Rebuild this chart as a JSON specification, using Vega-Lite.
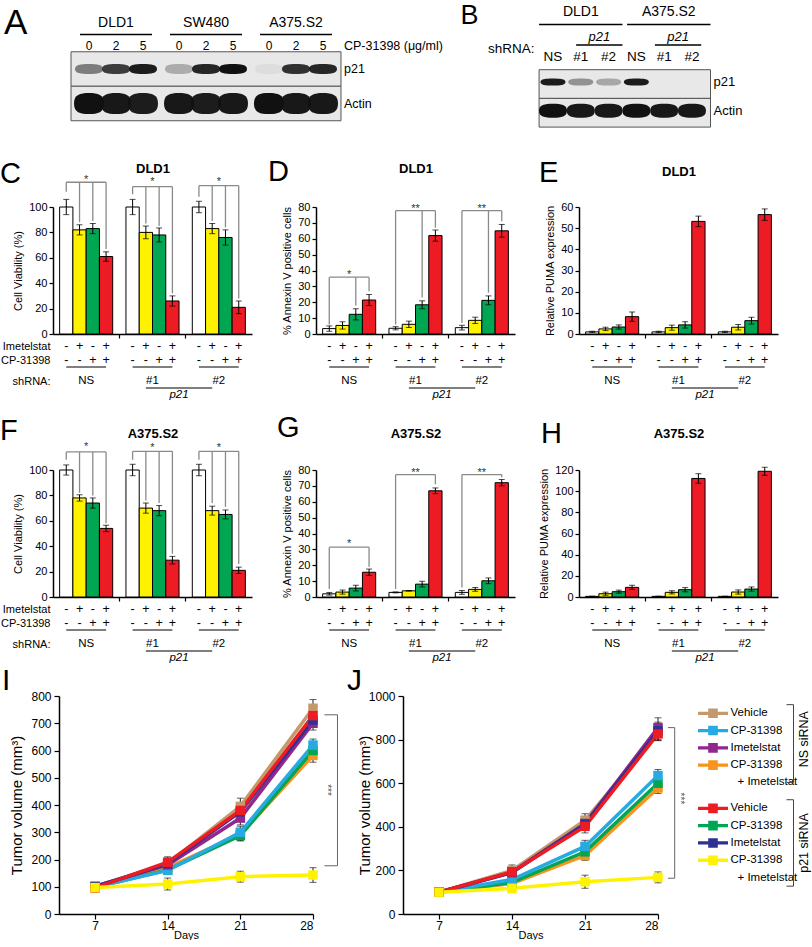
{
"$schema":"https://vega.github.io/schema/vega-lite/v6.json",
"padding":0,
"config":{"font":"Liberation Sans","view":{"stroke":null},
"axis":{"grid":false,"domainColor":"#000","tickColor":"#000","labelColor":"#000","titleColor":"#000","titleFontWeight":"normal","labelFont":"Liberation Sans","titleFont":"Liberation Sans"},
"title":{"color":"#000","font":"Liberation Sans"},"text":{"color":"#000"}},
"datasets":{
"bars":[
{"p":"C","s":"n1","t":"V","m":100,"e":6},{"p":"C","s":"n2","t":"I","m":82,"e":4},{"p":"C","s":"n3","t":"C","m":83,"e":4},{"p":"C","s":"n4","t":"IC","m":61,"e":3.7},
{"p":"C","s":"s1","t":"V","m":100,"e":6},{"p":"C","s":"s2","t":"I","m":80,"e":5},{"p":"C","s":"s3","t":"C","m":78,"e":5.5},{"p":"C","s":"s4","t":"IC","m":26,"e":4},
{"p":"C","s":"t1","t":"V","m":100,"e":4.5},{"p":"C","s":"t2","t":"I","m":83,"e":4},{"p":"C","s":"t3","t":"C","m":76,"e":6},{"p":"C","s":"t4","t":"IC","m":21,"e":5},
{"p":"D","s":"n1","t":"V","m":3.4,"e":1.7},{"p":"D","s":"n2","t":"I","m":5.4,"e":2.3},{"p":"D","s":"n3","t":"C","m":12.4,"e":3.5},{"p":"D","s":"n4","t":"IC","m":21.4,"e":3.5},
{"p":"D","s":"s1","t":"V","m":3.6,"e":1},{"p":"D","s":"s2","t":"I","m":6.1,"e":2},{"p":"D","s":"s3","t":"C","m":18.4,"e":2.5},{"p":"D","s":"s4","t":"IC","m":62,"e":3.5},
{"p":"D","s":"t1","t":"V","m":4,"e":1.5},{"p":"D","s":"t2","t":"I","m":8.6,"e":2},{"p":"D","s":"t3","t":"C","m":21.2,"e":2.8},{"p":"D","s":"t4","t":"IC","m":65,"e":4},
{"p":"E","s":"n1","t":"V","m":1,"e":0.3},{"p":"E","s":"n2","t":"I","m":2.4,"e":0.8},{"p":"E","s":"n3","t":"C","m":3.3,"e":1},{"p":"E","s":"n4","t":"IC","m":8.2,"e":2.2},
{"p":"E","s":"s1","t":"V","m":1,"e":0.3},{"p":"E","s":"s2","t":"I","m":3,"e":1.2},{"p":"E","s":"s3","t":"C","m":4.3,"e":1.5},{"p":"E","s":"s4","t":"IC","m":53.2,"e":2.5},
{"p":"E","s":"t1","t":"V","m":1,"e":0.3},{"p":"E","s":"t2","t":"I","m":3.2,"e":1.3},{"p":"E","s":"t3","t":"C","m":6.3,"e":1.6},{"p":"E","s":"t4","t":"IC","m":56.4,"e":2.7},
{"p":"F","s":"n1","t":"V","m":100,"e":4},{"p":"F","s":"n2","t":"I","m":78,"e":2.5},{"p":"F","s":"n3","t":"C","m":74,"e":4},{"p":"F","s":"n4","t":"IC","m":54,"e":2.5},
{"p":"F","s":"s1","t":"V","m":100,"e":4.5},{"p":"F","s":"s2","t":"I","m":70,"e":4},{"p":"F","s":"s3","t":"C","m":68,"e":4},{"p":"F","s":"s4","t":"IC","m":29,"e":3},
{"p":"F","s":"t1","t":"V","m":100,"e":4.5},{"p":"F","s":"t2","t":"I","m":68,"e":3.5},{"p":"F","s":"t3","t":"C","m":65,"e":3.5},{"p":"F","s":"t4","t":"IC","m":21,"e":2.5},
{"p":"G","s":"n1","t":"V","m":2,"e":0.8},{"p":"G","s":"n2","t":"I","m":3.1,"e":1.3},{"p":"G","s":"n3","t":"C","m":5.6,"e":1.8},{"p":"G","s":"n4","t":"IC","m":15.6,"e":2},
{"p":"G","s":"s1","t":"V","m":2.9,"e":0.3},{"p":"G","s":"s2","t":"I","m":3.9,"e":0.2},{"p":"G","s":"s3","t":"C","m":8.1,"e":1.8},{"p":"G","s":"s4","t":"IC","m":66.9,"e":1.8},
{"p":"G","s":"t1","t":"V","m":2.9,"e":1.2},{"p":"G","s":"t2","t":"I","m":4.8,"e":1.2},{"p":"G","s":"t3","t":"C","m":10.2,"e":1.8},{"p":"G","s":"t4","t":"IC","m":72,"e":2},
{"p":"H","s":"n1","t":"V","m":0.6,"e":0.2},{"p":"H","s":"n2","t":"I","m":3.1,"e":1.5},{"p":"H","s":"n3","t":"C","m":5,"e":1.5},{"p":"H","s":"n4","t":"IC","m":9.1,"e":2},
{"p":"H","s":"s1","t":"V","m":0.6,"e":0.2},{"p":"H","s":"s2","t":"I","m":4.4,"e":1.5},{"p":"H","s":"s3","t":"C","m":6.9,"e":2},{"p":"H","s":"s4","t":"IC","m":112,"e":4.5},
{"p":"H","s":"t1","t":"V","m":0.6,"e":0.2},{"p":"H","s":"t2","t":"I","m":4.7,"e":2},{"p":"H","s":"t3","t":"C","m":7.5,"e":2},{"p":"H","s":"t4","t":"IC","m":118.8,"e":3.8}
],
"legs":[
{"p":"C","s":"n1","top":119.5,"bot":112},{"p":"C","s":"n2","top":119.5,"bot":88},{"p":"C","s":"n3","top":119.5,"bot":89},{"p":"C","s":"n4","top":119.5,"bot":67},
{"p":"C","s":"s1","top":116,"bot":110},{"p":"C","s":"s2","top":116,"bot":87},{"p":"C","s":"s3","top":116,"bot":85},{"p":"C","s":"s4","top":116,"bot":32},
{"p":"C","s":"t1","top":116.8,"bot":108},{"p":"C","s":"t2","top":116.8,"bot":89},{"p":"C","s":"t3","top":116.8,"bot":84},{"p":"C","s":"t4","top":116.8,"bot":28},
{"p":"D","s":"n1","top":35.8,"bot":6},{"p":"D","s":"n3","top":35.8,"bot":18},{"p":"D","s":"n4","top":35.8,"bot":27},
{"p":"D","s":"s1","top":77.7,"bot":6},{"p":"D","s":"s3","top":77.7,"bot":23},{"p":"D","s":"s4","top":77.7,"bot":67},
{"p":"D","s":"t1","top":77.7,"bot":7},{"p":"D","s":"t3","top":77.7,"bot":26},{"p":"D","s":"t4","top":77.7,"bot":71},
{"p":"F","s":"n1","top":114.2,"bot":108},{"p":"F","s":"n2","top":114.2,"bot":82},{"p":"F","s":"n3","top":114.2,"bot":80},{"p":"F","s":"n4","top":114.2,"bot":58},
{"p":"F","s":"s1","top":114.7,"bot":108},{"p":"F","s":"s2","top":114.7,"bot":76},{"p":"F","s":"s3","top":114.7,"bot":74},{"p":"F","s":"s4","top":114.7,"bot":34},
{"p":"F","s":"t1","top":114.7,"bot":108},{"p":"F","s":"t2","top":114.7,"bot":74},{"p":"F","s":"t3","top":114.7,"bot":71},{"p":"F","s":"t4","top":114.7,"bot":26},
{"p":"G","s":"n1","top":31.4,"bot":5},{"p":"G","s":"n4","top":31.4,"bot":19},
{"p":"G","s":"s1","top":77.1,"bot":5},{"p":"G","s":"s4","top":77.1,"bot":71},
{"p":"G","s":"t1","top":77.1,"bot":6},{"p":"G","s":"t4","top":77.1,"bot":75.5}
],
"hbr":[
{"p":"C","s":"n1","s2":"n4","y":119.5},{"p":"C","s":"s1","s2":"s4","y":116},{"p":"C","s":"t1","s2":"t4","y":116.8},
{"p":"D","s":"n1","s2":"n4","y":35.8},{"p":"D","s":"s1","s2":"s4","y":77.7},{"p":"D","s":"t1","s2":"t4","y":77.7},
{"p":"F","s":"n1","s2":"n4","y":114.2},{"p":"F","s":"s1","s2":"s4","y":114.7},{"p":"F","s":"t1","s2":"t4","y":114.7},
{"p":"G","s":"n1","s2":"n4","y":31.4},{"p":"G","s":"s1","s2":"s4","y":77.1},{"p":"G","s":"t1","s2":"t4","y":77.1}
],
"stars":[
{"p":"C","s":"n2","y":123,"l":"*"},{"p":"C","s":"s2","y":121.5,"l":"*"},{"p":"C","s":"t2","y":121.5,"l":"*"},
{"p":"D","s":"n2","y":38.5,"l":"*"},{"p":"D","s":"s2","y":80.4,"l":"**"},{"p":"D","s":"t2","y":80.4,"l":"**"},
{"p":"F","s":"n2","y":120,"l":"*"},{"p":"F","s":"s2","y":119.4,"l":"*"},{"p":"F","s":"t2","y":119.4,"l":"*"},
{"p":"G","s":"n2","y":35,"l":"*"},{"p":"G","s":"s2","y":80,"l":"**"},{"p":"G","s":"t2","y":80,"l":"**"}
],
"tbl":[
{"k":"pm","s":"n1","r":"Imetelstat","v":"-"},{"k":"pm","s":"n2","r":"Imetelstat","v":"+"},{"k":"pm","s":"n3","r":"Imetelstat","v":"-"},{"k":"pm","s":"n4","r":"Imetelstat","v":"+"},
{"k":"pm","s":"s1","r":"Imetelstat","v":"-"},{"k":"pm","s":"s2","r":"Imetelstat","v":"+"},{"k":"pm","s":"s3","r":"Imetelstat","v":"-"},{"k":"pm","s":"s4","r":"Imetelstat","v":"+"},
{"k":"pm","s":"t1","r":"Imetelstat","v":"-"},{"k":"pm","s":"t2","r":"Imetelstat","v":"+"},{"k":"pm","s":"t3","r":"Imetelstat","v":"-"},{"k":"pm","s":"t4","r":"Imetelstat","v":"+"},
{"k":"pm","s":"n1","r":"CP-31398","v":"-"},{"k":"pm","s":"n2","r":"CP-31398","v":"-"},{"k":"pm","s":"n3","r":"CP-31398","v":"+"},{"k":"pm","s":"n4","r":"CP-31398","v":"+"},
{"k":"pm","s":"s1","r":"CP-31398","v":"-"},{"k":"pm","s":"s2","r":"CP-31398","v":"-"},{"k":"pm","s":"s3","r":"CP-31398","v":"+"},{"k":"pm","s":"s4","r":"CP-31398","v":"+"},
{"k":"pm","s":"t1","r":"CP-31398","v":"-"},{"k":"pm","s":"t2","r":"CP-31398","v":"-"},{"k":"pm","s":"t3","r":"CP-31398","v":"+"},{"k":"pm","s":"t4","r":"CP-31398","v":"+"},
{"k":"u","s":"n1","s2":"n4","r":"u"},{"k":"u","s":"s1","s2":"s4","r":"u"},{"k":"u","s":"t1","s2":"t4","r":"u"},{"k":"u","s":"s2","s2":"t2","r":"pl"},
{"k":"grp","s":"n2","r":"shRNA:","v":"NS"},{"k":"grp","s":"s2","r":"shRNA:","v":"#1"},{"k":"grp","s":"t2","r":"shRNA:","v":"#2"},
{"k":"it","s":"s4","r":"p21","v":"p21"}
],
"blotA":[
{"k":"box","x":"boxL","x2":"boxR","y":"top","y2":"mid"},{"k":"box","x":"boxL","x2":"boxR","y":"mid","y2":"bot"},
{"k":"bp","x":"DLD1 0","y":"p21","v":0.5},{"k":"bp","x":"DLD1 2","y":"p21","v":0.8},{"k":"bp","x":"DLD1 5","y":"p21","v":0.95},
{"k":"bp","x":"SW480 0","y":"p21","v":0.28},{"k":"bp","x":"SW480 2","y":"p21","v":0.9},{"k":"bp","x":"SW480 5","y":"p21","v":1},
{"k":"bp","x":"A375.S2 0","y":"p21","v":0.05},{"k":"bp","x":"A375.S2 2","y":"p21","v":0.85},{"k":"bp","x":"A375.S2 5","y":"p21","v":0.9},
{"k":"ba","x":"DLD1 0","y":"Actin","v":1},{"k":"ba","x":"DLD1 2","y":"Actin","v":0.97},{"k":"ba","x":"DLD1 5","y":"Actin","v":0.95},
{"k":"ba","x":"SW480 0","y":"Actin","v":0.97},{"k":"ba","x":"SW480 2","y":"Actin","v":0.95},{"k":"ba","x":"SW480 5","y":"Actin","v":0.97},
{"k":"ba","x":"A375.S2 0","y":"Actin","v":1},{"k":"ba","x":"A375.S2 2","y":"Actin","v":0.97},{"k":"ba","x":"A375.S2 5","y":"Actin","v":0.97},
{"k":"dose","x":"DLD1 0","y":"dose","t":"0"},{"k":"dose","x":"DLD1 2","y":"dose","t":"2"},{"k":"dose","x":"DLD1 5","y":"dose","t":"5"},
{"k":"dose","x":"SW480 0","y":"dose","t":"0"},{"k":"dose","x":"SW480 2","y":"dose","t":"2"},{"k":"dose","x":"SW480 5","y":"dose","t":"5"},
{"k":"dose","x":"A375.S2 0","y":"dose","t":"0"},{"k":"dose","x":"A375.S2 2","y":"dose","t":"2"},{"k":"dose","x":"A375.S2 5","y":"dose","t":"5"},
{"k":"cell","x":"DLD1 2","y":"cell","t":"DLD1"},{"k":"cell","x":"SW480 2","y":"cell","t":"SW480"},{"k":"cell","x":"A375.S2 2","y":"cell","t":"A375.S2"},
{"k":"ul","x":"uL1","x2":"uR1","y":"line"},{"k":"ul","x":"uL2","x2":"uR2","y":"line"},{"k":"ul","x":"uL3","x2":"uR3","y":"line"},
{"k":"side","x":"boxR","y":"p21","t":"p21"},{"k":"side","x":"boxR","y":"Actin","t":"Actin"},{"k":"side","x":"boxR","y":"dose","t":"CP-31398 (μg/ml)"},
{"k":"let","x":"lblA","y":"cell","t":"A"}
],
"blotB":[
{"k":"box","x":"boxL","x2":"boxR","y":"top","y2":"mid"},{"k":"box","x":"boxL","x2":"boxR","y":"mid","y2":"bot"},
{"k":"bp","x":"DLD1 NS","y":"p21","v":0.95},{"k":"bp","x":"DLD1 #1","y":"p21","v":0.4},{"k":"bp","x":"DLD1 #2","y":"p21","v":0.3},
{"k":"bp","x":"A375.S2 NS","y":"p21","v":0.95},{"k":"bp","x":"A375.S2 #1","y":"p21","v":0},{"k":"bp","x":"A375.S2 #2","y":"p21","v":0},
{"k":"ba","x":"DLD1 NS","y":"Actin","v":1},{"k":"ba","x":"DLD1 #1","y":"Actin","v":0.97},{"k":"ba","x":"DLD1 #2","y":"Actin","v":0.97},
{"k":"ba","x":"A375.S2 NS","y":"Actin","v":1},{"k":"ba","x":"A375.S2 #1","y":"Actin","v":0.97},{"k":"ba","x":"A375.S2 #2","y":"Actin","v":0.97},
{"k":"lane","x":"DLD1 NS","y":"lane","t":"NS"},{"k":"lane","x":"DLD1 #1","y":"lane","t":"#1"},{"k":"lane","x":"DLD1 #2","y":"lane","t":"#2"},
{"k":"lane","x":"A375.S2 NS","y":"lane","t":"NS"},{"k":"lane","x":"A375.S2 #1","y":"lane","t":"#1"},{"k":"lane","x":"A375.S2 #2","y":"lane","t":"#2"},
{"k":"cell","x":"DLD1 #1","y":"cell","t":"DLD1"},{"k":"cell","x":"cB2","y":"cell","t":"A375.S2"},
{"k":"ul","x":"boxL","x2":"m1","y":"line"},{"k":"ul","x":"uL2","x2":"boxR","y":"line"},{"k":"ul","x":"pL1","x2":"m1","y":"pline"},{"k":"ul","x":"pL2","x2":"pR2","y":"pline"},
{"k":"it","x":"pC1","y":"p21t","t":"p21"},{"k":"it","x":"pC2","y":"p21t","t":"p21"},
{"k":"shr","x":"shR","y":"shRNA","t":"shRNA:"},
{"k":"side","x":"boxR","y":"p21","t":"p21"},{"k":"side","x":"boxR","y":"Actin","t":"Actin"},
{"k":"let","x":"lblB","y":"lbl","t":"B"}
],
"tum":[
{"pn":"I","g":"NS-CI","d":7,"v":97,"e":5},{"pn":"I","g":"NS-CI","d":14,"v":170,"e":15},{"pn":"I","g":"NS-CI","d":21,"v":292,"e":22},{"pn":"I","g":"NS-CI","d":28,"v":582,"e":25},
{"pn":"I","g":"p-C","d":7,"v":98,"e":5},{"pn":"I","g":"p-C","d":14,"v":162,"e":15},{"pn":"I","g":"p-C","d":21,"v":288,"e":20},{"pn":"I","g":"p-C","d":28,"v":600,"e":25},
{"pn":"I","g":"NS-C","d":7,"v":98,"e":5},{"pn":"I","g":"NS-C","d":14,"v":160,"e":15},{"pn":"I","g":"NS-C","d":21,"v":300,"e":22},{"pn":"I","g":"NS-C","d":28,"v":620,"e":22},
{"pn":"I","g":"NS-V","d":7,"v":100,"e":5},{"pn":"I","g":"NS-V","d":14,"v":185,"e":20},{"pn":"I","g":"NS-V","d":21,"v":395,"e":30},{"pn":"I","g":"NS-V","d":28,"v":755,"e":32},
{"pn":"I","g":"NS-I","d":7,"v":102,"e":6},{"pn":"I","g":"NS-I","d":14,"v":180,"e":18},{"pn":"I","g":"NS-I","d":21,"v":352,"e":25},{"pn":"I","g":"NS-I","d":28,"v":700,"e":25},
{"pn":"I","g":"p-I","d":7,"v":100,"e":5},{"pn":"I","g":"p-I","d":14,"v":185,"e":18},{"pn":"I","g":"p-I","d":21,"v":375,"e":25},{"pn":"I","g":"p-I","d":28,"v":712,"e":25},
{"pn":"I","g":"p-V","d":7,"v":96,"e":5},{"pn":"I","g":"p-V","d":14,"v":190,"e":20},{"pn":"I","g":"p-V","d":21,"v":380,"e":28},{"pn":"I","g":"p-V","d":28,"v":728,"e":30},
{"pn":"I","g":"p-CI","d":7,"v":97,"e":5},{"pn":"I","g":"p-CI","d":14,"v":110,"e":22},{"pn":"I","g":"p-CI","d":21,"v":137,"e":20},{"pn":"I","g":"p-CI","d":28,"v":143,"e":27},
{"pn":"J","g":"NS-CI","d":7,"v":100,"e":8},{"pn":"J","g":"NS-CI","d":14,"v":140,"e":18},{"pn":"J","g":"NS-CI","d":21,"v":268,"e":22},{"pn":"J","g":"NS-CI","d":28,"v":578,"e":25},
{"pn":"J","g":"p-C","d":7,"v":100,"e":8},{"pn":"J","g":"p-C","d":14,"v":145,"e":18},{"pn":"J","g":"p-C","d":21,"v":285,"e":25},{"pn":"J","g":"p-C","d":28,"v":600,"e":25},
{"pn":"J","g":"NS-C","d":7,"v":100,"e":8},{"pn":"J","g":"NS-C","d":14,"v":158,"e":20},{"pn":"J","g":"NS-C","d":21,"v":310,"e":28},{"pn":"J","g":"NS-C","d":28,"v":635,"e":28},
{"pn":"J","g":"NS-V","d":7,"v":100,"e":8},{"pn":"J","g":"NS-V","d":14,"v":200,"e":25},{"pn":"J","g":"NS-V","d":21,"v":430,"e":30},{"pn":"J","g":"NS-V","d":28,"v":830,"e":35},
{"pn":"J","g":"NS-I","d":7,"v":100,"e":8},{"pn":"J","g":"NS-I","d":14,"v":192,"e":22},{"pn":"J","g":"NS-I","d":21,"v":415,"e":28},{"pn":"J","g":"NS-I","d":28,"v":855,"e":45},
{"pn":"J","g":"p-I","d":7,"v":100,"e":8},{"pn":"J","g":"p-I","d":14,"v":190,"e":22},{"pn":"J","g":"p-I","d":21,"v":412,"e":28},{"pn":"J","g":"p-I","d":28,"v":840,"e":40},
{"pn":"J","g":"p-V","d":7,"v":100,"e":8},{"pn":"J","g":"p-V","d":14,"v":193,"e":25},{"pn":"J","g":"p-V","d":21,"v":402,"e":30},{"pn":"J","g":"p-V","d":28,"v":826,"e":30},
{"pn":"J","g":"p-CI","d":7,"v":100,"e":8},{"pn":"J","g":"p-CI","d":14,"v":118,"e":20},{"pn":"J","g":"p-CI","d":21,"v":148,"e":30},{"pn":"J","g":"p-CI","d":28,"v":168,"e":25}
],
"sig":[
{"pn":"I","k":"v","d":30.36,"v":731,"v2":177},{"pn":"I","k":"h","d":29.1,"d2":30.36,"v":731},{"pn":"I","k":"h","d":29.1,"d2":30.36,"v":177},{"pn":"I","k":"t","d":29.35,"v":455,"t":"***"},
{"pn":"J","k":"v","d":29.6,"v":855,"v2":164},{"pn":"J","k":"h","d":28.95,"d2":29.6,"v":855},{"pn":"J","k":"h","d":28.95,"d2":29.6,"v":164},{"pn":"J","k":"t","d":30.15,"v":530,"t":"***"}
],
"leg":[
{"k":"sym","c":"sym","r":"nsV","g":"NS-V"},{"k":"sym","c":"sym","r":"nsC","g":"NS-C"},{"k":"sym","c":"sym","r":"nsI","g":"NS-I"},{"k":"sym","c":"sym","r":"nsCI","g":"NS-CI"},
{"k":"sym","c":"sym","r":"pV","g":"p-V"},{"k":"sym","c":"sym","r":"pC","g":"p-C"},{"k":"sym","c":"sym","r":"pI","g":"p-I"},{"k":"sym","c":"sym","r":"pCI","g":"p-CI"},
{"k":"lab","c":"lab","r":"nsV","t":"Vehicle"},{"k":"lab","c":"lab","r":"nsC","t":"CP-31398"},{"k":"lab","c":"lab","r":"nsI","t":"Imetelstat"},{"k":"lab","c":"lab","r":"nsCI","t":"CP-31398"},{"k":"lab","c":"lab2","r":"nsCI2","t":"+ Imetelstat"},
{"k":"lab","c":"lab","r":"pV","t":"Vehicle"},{"k":"lab","c":"lab","r":"pC","t":"CP-31398"},{"k":"lab","c":"lab","r":"pI","t":"Imetelstat"},{"k":"lab","c":"lab","r":"pCI","t":"CP-31398"},{"k":"lab","c":"lab2","r":"pCI2","t":"+ Imetelstat"},
{"k":"bv","c":"br","r":"nsTop","r2":"nsCI2"},{"k":"bv","c":"br","r":"pTop","r2":"pBot"},
{"k":"bh","c":"stub","c2":"br","r":"nsTop"},{"k":"bh","c":"stub","c2":"br","r":"nsCI2"},{"k":"bh","c":"stub","c2":"br","r":"pTop"},{"k":"bh","c":"stub","c2":"br","r":"pBot"},
{"k":"ttl","c":"ttl","r":"nsT","t":"NS siRNA"},{"k":"ttl","c":"ttl","r":"pI","t":"p21 siRNA"}
]
},
"columns":1,"align":"none","spacing":29,
"concat":[
{"bounds":"flush","spacing":111.3,"hconcat":[
{"width":296,"height":120.75,
"layer":[
{"data":{"name":"blotA"},"transform":[{"filter":"datum.k=='box'"}],"mark":{"type":"rect","fill":"#e8e8e8","stroke":"#555","strokeWidth":1},
"encoding":{"x":{"field":"x","type":"nominal","scale":{"type":"point","padding":0.889,"rangeMin":-53,"rangeMax":296,"domain":["lblA","x1","x2","x3","x4","x5","x6","boxL","uL1","DLD1 0","x10","x11","DLD1 2","x13","x14","DLD1 5","uR1","x17","uL2","SW480 0","x20","x21","SW480 2","x23","x24","SW480 5","uR2","x27","uL3","A375.S2 0","x30","x31","A375.S2 2","x33","x34","A375.S2 5","uR3","boxR"]},"axis":null},"x2":{"field":"x2"},
"y":{"field":"y","type":"nominal","scale":{"type":"point","padding":0,"domain":["y0","y1","y2","y3","cell","y5","line","y7","dose","top","y10","y11","p21","y13","y14","mid","y16","y17","Actin","y19","y20","bot"]},"axis":null},"y2":{"field":"y2"}}},
{"data":{"name":"blotA"},"transform":[{"filter":"datum.k=='bp'"}],"mark":{"type":"point","filled":true,"color":"#111","strokeWidth":0,"size":784,"shape":"M-1,0C-1,-0.3,-0.6,-0.36,0,-0.36C0.6,-0.36,1,-0.3,1,0C1,0.3,0.6,0.36,0,0.36C-0.6,0.36,-1,0.3,-1,0Z"},
"encoding":{"x":{"field":"x","type":"nominal","axis":null},"y":{"field":"y","type":"nominal","axis":null},"opacity":{"field":"v","type":"quantitative","scale":{"domain":[0,1],"range":[0,1]},"legend":null}}},
{"data":{"name":"blotA"},"transform":[{"filter":"datum.k=='ba'"}],"mark":{"type":"point","filled":true,"color":"#111","strokeWidth":0,"size":900,"shape":"M-1,0C-1,-0.6,-0.6,-0.7,0,-0.7C0.6,-0.7,1,-0.6,1,0C1,0.6,0.6,0.7,0,0.7C-0.6,0.7,-1,0.6,-1,0Z"},
"encoding":{"x":{"field":"x","type":"nominal","axis":null},"y":{"field":"y","type":"nominal","axis":null},"opacity":{"field":"v","type":"quantitative","scale":{"domain":[0,1],"range":[0,1]},"legend":null}}},
{"data":{"name":"blotA"},"transform":[{"filter":"datum.k=='cell'"}],"mark":{"type":"text","fontSize":14,"baseline":"middle"},
"encoding":{"x":{"field":"x","type":"nominal","axis":null},"y":{"field":"y","type":"nominal","axis":null},"text":{"field":"t"}}},
{"data":{"name":"blotA"},"transform":[{"filter":"datum.k=='ul'"}],"mark":{"type":"rule","color":"#000","strokeWidth":1.5},
"encoding":{"x":{"field":"x","type":"nominal","axis":null},"x2":{"field":"x2"},"y":{"field":"y","type":"nominal","axis":null}}},
{"data":{"name":"blotA"},"transform":[{"filter":"datum.k=='dose'"}],"mark":{"type":"text","fontSize":12,"baseline":"middle"},
"encoding":{"x":{"field":"x","type":"nominal","axis":null},"y":{"field":"y","type":"nominal","axis":null},"text":{"field":"t"}}},
{"data":{"name":"blotA"},"transform":[{"filter":"datum.k=='side'"}],"mark":{"type":"text","fontSize":12.5,"baseline":"middle","align":"left","dx":3},
"encoding":{"x":{"field":"x","type":"nominal","axis":null},"y":{"field":"y","type":"nominal","axis":null},"text":{"field":"t"}}},
{"data":{"name":"blotA"},"transform":[{"filter":"datum.k=='let'"}],"mark":{"type":"text","fontSize":35,"baseline":"middle","align":"left","dx":-4},
"encoding":{"x":{"field":"x","type":"nominal","axis":null},"y":{"field":"y","type":"nominal","axis":null},"text":{"field":"t"}}}
]},
{"width":250.2,"height":127.1,
"layer":[
{"data":{"name":"blotB"},"transform":[{"filter":"datum.k=='box'"}],"mark":{"type":"rect","fill":"#e8e8e8","stroke":"#555","strokeWidth":1},
"encoding":{"x":{"field":"x","type":"nominal","scale":{"type":"point","padding":0,"domain":["bz1","bz2","lblB","j1","j2","j3","j4","j5","j6","j7","j8","j9","j10","j11","j12","j13","shR","boxL","j14","j15","DLD1 NS","j16","j17","j18","j19","pL1","DLD1 #1","j20","j21","j22","pC1","j23","DLD1 #2","j24","j25","m1","uL2","j26","A375.S2 NS","j27","j28","j29","pL2","j30","A375.S2 #1","cB2","j31","pC2","j32","j33","A375.S2 #2","j34","pR2","j35","boxR"]},"axis":null},"x2":{"field":"x2"},
"y":{"field":"y","type":"nominal","scale":{"type":"point","padding":0,"domain":["k0","k1","k2","cell","lbl","k5","line","k7","k8","p21t","k10","pline","shRNA","k13","lane","k15","k16","top","k18","k19","p21","k21","k22","k23","mid","k25","k26","Actin","k28","k29","k30","bot"]},"axis":null},"y2":{"field":"y2"}}},
{"data":{"name":"blotB"},"transform":[{"filter":"datum.k=='bp'"}],"mark":{"type":"point","filled":true,"color":"#111","strokeWidth":0,"size":625,"shape":"M-1,0C-1,-0.24,-0.6,-0.28,0,-0.28C0.6,-0.28,1,-0.24,1,0C1,0.24,0.6,0.28,0,0.28C-0.6,0.28,-1,0.24,-1,0Z"},
"encoding":{"x":{"field":"x","type":"nominal","axis":null},"y":{"field":"y","type":"nominal","axis":null},"opacity":{"field":"v","type":"quantitative","scale":{"domain":[0,1],"range":[0,1]},"legend":null}}},
{"data":{"name":"blotB"},"transform":[{"filter":"datum.k=='ba'"}],"mark":{"type":"point","filled":true,"color":"#111","strokeWidth":0,"size":784,"shape":"M-1,0C-1,-0.43,-0.6,-0.5,0,-0.5C0.6,-0.5,1,-0.43,1,0C1,0.43,0.6,0.5,0,0.5C-0.6,0.5,-1,0.43,-1,0Z"},
"encoding":{"x":{"field":"x","type":"nominal","axis":null},"y":{"field":"y","type":"nominal","axis":null},"opacity":{"field":"v","type":"quantitative","scale":{"domain":[0,1],"range":[0,1]},"legend":null}}},
{"data":{"name":"blotB"},"transform":[{"filter":"datum.k=='cell'"}],"mark":{"type":"text","fontSize":14,"baseline":"middle"},
"encoding":{"x":{"field":"x","type":"nominal","axis":null},"y":{"field":"y","type":"nominal","axis":null},"text":{"field":"t"}}},
{"data":{"name":"blotB"},"transform":[{"filter":"datum.k=='lane'"}],"mark":{"type":"text","fontSize":13.5,"baseline":"middle"},
"encoding":{"x":{"field":"x","type":"nominal","axis":null},"y":{"field":"y","type":"nominal","axis":null},"text":{"field":"t"}}},
{"data":{"name":"blotB"},"transform":[{"filter":"datum.k=='ul'"}],"mark":{"type":"rule","color":"#000","strokeWidth":1.5},
"encoding":{"x":{"field":"x","type":"nominal","axis":null},"x2":{"field":"x2"},"y":{"field":"y","type":"nominal","axis":null}}},
{"data":{"name":"blotB"},"transform":[{"filter":"datum.k=='it'"}],"mark":{"type":"text","fontSize":13,"fontStyle":"italic","baseline":"middle"},
"encoding":{"x":{"field":"x","type":"nominal","axis":null},"y":{"field":"y","type":"nominal","axis":null},"text":{"field":"t"}}},
{"data":{"name":"blotB"},"transform":[{"filter":"datum.k=='shr'"}],"mark":{"type":"text","fontSize":13.5,"baseline":"middle","align":"right"},
"encoding":{"x":{"field":"x","type":"nominal","axis":null},"y":{"field":"y","type":"nominal","axis":null},"text":{"field":"t"}}},
{"data":{"name":"blotB"},"transform":[{"filter":"datum.k=='side'"}],"mark":{"type":"text","fontSize":13,"baseline":"middle","align":"left","dx":3},
"encoding":{"x":{"field":"x","type":"nominal","axis":null},"y":{"field":"y","type":"nominal","axis":null},"text":{"field":"t"}}},
{"data":{"name":"blotB"},"transform":[{"filter":"datum.k=='let'"}],"mark":{"type":"text","fontSize":27,"baseline":"middle","align":"center"},
"encoding":{"x":{"field":"x","type":"nominal","axis":null},"y":{"field":"y","type":"nominal","axis":null},"text":{"field":"t"}}}
]}
]},
{"columns":1,"align":"none","spacing":12,"concat":[
{"bounds":"flush","spacing":64,"hconcat":[
{"width":199,"height":127,
"title":{"text":"C","anchor":"start","frame":"group","fontSize":29,"fontWeight":"normal","dx":-53,"dy":26.5,"offset":0},
"resolve":{"scale":{"x":"independent","y":"independent"}},
"layer":[
{"layer":[
{"data":{"name":"bars"},"transform":[{"filter":"datum.p=='C'"}],"mark":{"type":"bar","stroke":"#000","strokeWidth":1},
"encoding":{"x":{"field":"s","type":"nominal","scale":{"domain":["n1","n2","n3","n4","g1","s1","s2","s3","s4","g2","t1","t2","t3","t4"],"paddingInner":0,"paddingOuter":0.5},"axis":{"values":["g1","g2"],"labels":false,"title":null,"tickSize":4,"domainWidth":1.5,"tickWidth":1.2}},
"y":{"field":"m","type":"quantitative","scale":{"domain":[0,100],"nice":false},"axis":{"values":[0,20,40,60,80,100],"title":"Cell Viability (%)","titleFontSize":11,"labelFontSize":11,"tickSize":4,"labelPadding":2,"titlePadding":5,"domainWidth":1.5,"tickWidth":1.2}},
"fill":{"field":"t","type":"nominal","scale":{"domain":["V","I","C","IC"],"range":["#ffffff","#fff200","#00a651","#ed1c24"]},"legend":null}}},
{"data":{"name":"bars"},"transform":[{"filter":"datum.p=='C'"}],"mark":{"type":"errorbar","ticks":true,"size":6,"thickness":1,"color":"#000"},
"encoding":{"x":{"field":"s","type":"nominal","axis":{"values":["g1","g2"],"labels":false,"title":null,"tickSize":4,"domainWidth":1.5,"tickWidth":1.2}},"y":{"field":"m","type":"quantitative","axis":{"values":[0,20,40,60,80,100],"title":"Cell Viability (%)","titleFontSize":11,"labelFontSize":11,"tickSize":4,"labelPadding":2,"titlePadding":5,"domainWidth":1.5,"tickWidth":1.2}},"yError":{"field":"e"}}},
{"data":{"name":"legs"},"transform":[{"filter":"datum.p=='C'"}],"mark":{"type":"rule","color":"#8a8a8a","strokeWidth":1.3},
"encoding":{"x":{"field":"s","type":"nominal","axis":{"values":["g1","g2"],"labels":false,"title":null,"tickSize":4,"domainWidth":1.5,"tickWidth":1.2}},"y":{"field":"top","type":"quantitative","axis":{"values":[0,20,40,60,80,100],"title":"Cell Viability (%)","titleFontSize":11,"labelFontSize":11,"tickSize":4,"labelPadding":2,"titlePadding":5,"domainWidth":1.5,"tickWidth":1.2}},"y2":{"field":"bot"}}},
{"data":{"name":"hbr"},"transform":[{"filter":"datum.p=='C'"}],"mark":{"type":"rule","color":"#8a8a8a","strokeWidth":1.3},
"encoding":{"x":{"field":"s","type":"nominal","axis":{"values":["g1","g2"],"labels":false,"title":null,"tickSize":4,"domainWidth":1.5,"tickWidth":1.2}},"x2":{"field":"s2"},"y":{"field":"y","type":"quantitative","axis":{"values":[0,20,40,60,80,100],"title":"Cell Viability (%)","titleFontSize":11,"labelFontSize":11,"tickSize":4,"labelPadding":2,"titlePadding":5,"domainWidth":1.5,"tickWidth":1.2}}}},
{"data":{"name":"stars"},"transform":[{"filter":"datum.p=='C'"}],"mark":{"type":"text","fontSize":11,"color":"#333","dy":2.5},
"encoding":{"x":{"field":"s","type":"nominal","bandPosition":1,"axis":{"values":["g1","g2"],"labels":false,"title":null,"tickSize":4,"domainWidth":1.5,"tickWidth":1.2}},"y":{"field":"y","type":"quantitative","axis":{"values":[0,20,40,60,80,100],"title":"Cell Viability (%)","titleFontSize":11,"labelFontSize":11,"tickSize":4,"labelPadding":2,"titlePadding":5,"domainWidth":1.5,"tickWidth":1.2}},"text":{"field":"l"}}}
]},
{"layer":[
{"data":{"name":"tbl"},"transform":[{"filter":"datum.k=='pm'"}],"mark":{"type":"text","fontSize":12.5,"baseline":"middle"},
"encoding":{"x":{"field":"s","type":"nominal","scale":{"domain":["n1","n2","n3","n4","g1","s1","s2","s3","s4","g2","t1","t2","t3","t4"],"paddingInner":0,"paddingOuter":0.5},"axis":{"orient":"top","title":"DLD1","titleFontSize":13,"titleFontWeight":"bold","labels":false,"ticks":false,"domain":false,"titlePadding":32}},
"y":{"field":"r","type":"nominal","scale":{"type":"point","domain":["Imetelstat","sp1","CP-31398","u","sp2","shRNA:","pl","p21"],"padding":0,"rangeMin":139,"rangeMax":188},"axis":{"orient":"left","title":null,"domain":false,"ticks":false,"labelFontSize":11,"labelPadding":3,"labelExpr":"indexof(['Imetelstat','CP-31398','shRNA:'], datum.value) >= 0 ? datum.value : ''"}},"text":{"field":"v"}}},
{"data":{"name":"tbl"},"transform":[{"filter":"datum.k=='u'"}],"mark":{"type":"rule","color":"#000","strokeWidth":1.2},
"encoding":{"x":{"field":"s","type":"nominal","axis":{"orient":"top","title":"DLD1","titleFontSize":13,"titleFontWeight":"bold","labels":false,"ticks":false,"domain":false,"titlePadding":32}},"x2":{"field":"s2"},"y":{"field":"r","type":"nominal","axis":{"orient":"left","title":null,"domain":false,"ticks":false,"labelFontSize":11,"labelPadding":3,"labelExpr":"indexof(['Imetelstat','CP-31398','shRNA:'], datum.value) >= 0 ? datum.value : ''"}}}},
{"data":{"name":"tbl"},"transform":[{"filter":"datum.k=='grp'"}],"mark":{"type":"text","fontSize":11.5,"baseline":"middle"},
"encoding":{"x":{"field":"s","type":"nominal","bandPosition":1,"axis":{"orient":"top","title":"DLD1","titleFontSize":13,"titleFontWeight":"bold","labels":false,"ticks":false,"domain":false,"titlePadding":32}},"y":{"field":"r","type":"nominal","axis":{"orient":"left","title":null,"domain":false,"ticks":false,"labelFontSize":11,"labelPadding":3,"labelExpr":"indexof(['Imetelstat','CP-31398','shRNA:'], datum.value) >= 0 ? datum.value : ''"}},"text":{"field":"v"}}},
{"data":{"name":"tbl"},"transform":[{"filter":"datum.k=='it'"}],"mark":{"type":"text","fontSize":11.5,"fontStyle":"italic","baseline":"middle"},
"encoding":{"x":{"field":"s","type":"nominal","bandPosition":1,"axis":{"orient":"top","title":"DLD1","titleFontSize":13,"titleFontWeight":"bold","labels":false,"ticks":false,"domain":false,"titlePadding":32}},"y":{"field":"r","type":"nominal","axis":{"orient":"left","title":null,"domain":false,"ticks":false,"labelFontSize":11,"labelPadding":3,"labelExpr":"indexof(['Imetelstat','CP-31398','shRNA:'], datum.value) >= 0 ? datum.value : ''"}},"text":{"field":"v"}}}
]}
]},
{"width":199,"height":127,
"title":{"text":"D","anchor":"start","frame":"group","fontSize":29,"fontWeight":"normal","dx":-48,"dy":24.5,"offset":0},
"resolve":{"scale":{"x":"independent","y":"independent"}},
"layer":[
{"layer":[
{"data":{"name":"bars"},"transform":[{"filter":"datum.p=='D'"}],"mark":{"type":"bar","stroke":"#000","strokeWidth":1},
"encoding":{"x":{"field":"s","type":"nominal","scale":{"domain":["n1","n2","n3","n4","g1","s1","s2","s3","s4","g2","t1","t2","t3","t4"],"paddingInner":0,"paddingOuter":0.5},"axis":{"values":["g1","g2"],"labels":false,"title":null,"tickSize":4,"domainWidth":1.5,"tickWidth":1.2}},
"y":{"field":"m","type":"quantitative","scale":{"domain":[0,80],"nice":false},"axis":{"values":[0,10,20,30,40,50,60,70,80],"title":"% Annexin V positive cells","titleFontSize":11,"labelFontSize":11,"tickSize":4,"labelPadding":2,"titlePadding":5,"domainWidth":1.5,"tickWidth":1.2}},
"fill":{"field":"t","type":"nominal","scale":{"domain":["V","I","C","IC"],"range":["#ffffff","#fff200","#00a651","#ed1c24"]},"legend":null}}},
{"data":{"name":"bars"},"transform":[{"filter":"datum.p=='D'"}],"mark":{"type":"errorbar","ticks":true,"size":6,"thickness":1,"color":"#000"},
"encoding":{"x":{"field":"s","type":"nominal","axis":{"values":["g1","g2"],"labels":false,"title":null,"tickSize":4,"domainWidth":1.5,"tickWidth":1.2}},"y":{"field":"m","type":"quantitative","axis":{"values":[0,10,20,30,40,50,60,70,80],"title":"% Annexin V positive cells","titleFontSize":11,"labelFontSize":11,"tickSize":4,"labelPadding":2,"titlePadding":5,"domainWidth":1.5,"tickWidth":1.2}},"yError":{"field":"e"}}},
{"data":{"name":"legs"},"transform":[{"filter":"datum.p=='D'"}],"mark":{"type":"rule","color":"#8a8a8a","strokeWidth":1.3},
"encoding":{"x":{"field":"s","type":"nominal","axis":{"values":["g1","g2"],"labels":false,"title":null,"tickSize":4,"domainWidth":1.5,"tickWidth":1.2}},"y":{"field":"top","type":"quantitative","axis":{"values":[0,10,20,30,40,50,60,70,80],"title":"% Annexin V positive cells","titleFontSize":11,"labelFontSize":11,"tickSize":4,"labelPadding":2,"titlePadding":5,"domainWidth":1.5,"tickWidth":1.2}},"y2":{"field":"bot"}}},
{"data":{"name":"hbr"},"transform":[{"filter":"datum.p=='D'"}],"mark":{"type":"rule","color":"#8a8a8a","strokeWidth":1.3},
"encoding":{"x":{"field":"s","type":"nominal","axis":{"values":["g1","g2"],"labels":false,"title":null,"tickSize":4,"domainWidth":1.5,"tickWidth":1.2}},"x2":{"field":"s2"},"y":{"field":"y","type":"quantitative","axis":{"values":[0,10,20,30,40,50,60,70,80],"title":"% Annexin V positive cells","titleFontSize":11,"labelFontSize":11,"tickSize":4,"labelPadding":2,"titlePadding":5,"domainWidth":1.5,"tickWidth":1.2}}}},
{"data":{"name":"stars"},"transform":[{"filter":"datum.p=='D'"}],"mark":{"type":"text","fontSize":11,"color":"#333","dy":2.5},
"encoding":{"x":{"field":"s","type":"nominal","bandPosition":1,"axis":{"values":["g1","g2"],"labels":false,"title":null,"tickSize":4,"domainWidth":1.5,"tickWidth":1.2}},"y":{"field":"y","type":"quantitative","axis":{"values":[0,10,20,30,40,50,60,70,80],"title":"% Annexin V positive cells","titleFontSize":11,"labelFontSize":11,"tickSize":4,"labelPadding":2,"titlePadding":5,"domainWidth":1.5,"tickWidth":1.2}},"text":{"field":"l"}}}
]},
{"layer":[
{"data":{"name":"tbl"},"transform":[{"filter":"datum.k=='pm'"}],"mark":{"type":"text","fontSize":12.5,"baseline":"middle"},
"encoding":{"x":{"field":"s","type":"nominal","scale":{"domain":["n1","n2","n3","n4","g1","s1","s2","s3","s4","g2","t1","t2","t3","t4"],"paddingInner":0,"paddingOuter":0.5},"axis":{"orient":"top","title":"DLD1","titleFontSize":13,"titleFontWeight":"bold","labels":false,"ticks":false,"domain":false,"titlePadding":32}},
"y":{"field":"r","type":"nominal","scale":{"type":"point","domain":["Imetelstat","sp1","CP-31398","u","sp2","shRNA:","pl","p21"],"padding":0,"rangeMin":139,"rangeMax":188},"axis":null},"text":{"field":"v"}}},
{"data":{"name":"tbl"},"transform":[{"filter":"datum.k=='u'"}],"mark":{"type":"rule","color":"#000","strokeWidth":1.2},
"encoding":{"x":{"field":"s","type":"nominal","axis":{"orient":"top","title":"DLD1","titleFontSize":13,"titleFontWeight":"bold","labels":false,"ticks":false,"domain":false,"titlePadding":32}},"x2":{"field":"s2"},"y":{"field":"r","type":"nominal","axis":null}}},
{"data":{"name":"tbl"},"transform":[{"filter":"datum.k=='grp'"}],"mark":{"type":"text","fontSize":11.5,"baseline":"middle"},
"encoding":{"x":{"field":"s","type":"nominal","bandPosition":1,"axis":{"orient":"top","title":"DLD1","titleFontSize":13,"titleFontWeight":"bold","labels":false,"ticks":false,"domain":false,"titlePadding":32}},"y":{"field":"r","type":"nominal","axis":null},"text":{"field":"v"}}},
{"data":{"name":"tbl"},"transform":[{"filter":"datum.k=='it'"}],"mark":{"type":"text","fontSize":11.5,"fontStyle":"italic","baseline":"middle"},
"encoding":{"x":{"field":"s","type":"nominal","bandPosition":1,"axis":{"orient":"top","title":"DLD1","titleFontSize":13,"titleFontWeight":"bold","labels":false,"ticks":false,"domain":false,"titlePadding":32}},"y":{"field":"r","type":"nominal","axis":null},"text":{"field":"v"}}}
]}
]},
{"width":199,"height":127,
"title":{"text":"E","anchor":"start","frame":"group","fontSize":29,"fontWeight":"normal","dx":-40,"dy":23,"offset":0},
"resolve":{"scale":{"x":"independent","y":"independent"}},
"layer":[
{"layer":[
{"data":{"name":"bars"},"transform":[{"filter":"datum.p=='E'"}],"mark":{"type":"bar","stroke":"#000","strokeWidth":1},
"encoding":{"x":{"field":"s","type":"nominal","scale":{"domain":["n1","n2","n3","n4","g1","s1","s2","s3","s4","g2","t1","t2","t3","t4"],"paddingInner":0,"paddingOuter":0.5},"axis":{"values":["g1","g2"],"labels":false,"title":null,"tickSize":4,"domainWidth":1.5,"tickWidth":1.2}},
"y":{"field":"m","type":"quantitative","scale":{"domain":[0,60],"nice":false},"axis":{"values":[0,10,20,30,40,50,60],"title":"Relative PUMA expression","titleFontSize":11,"labelFontSize":11,"tickSize":4,"labelPadding":2,"titlePadding":5,"domainWidth":1.5,"tickWidth":1.2}},
"fill":{"field":"t","type":"nominal","scale":{"domain":["V","I","C","IC"],"range":["#ffffff","#fff200","#00a651","#ed1c24"]},"legend":null}}},
{"data":{"name":"bars"},"transform":[{"filter":"datum.p=='E'"}],"mark":{"type":"errorbar","ticks":true,"size":6,"thickness":1,"color":"#000"},
"encoding":{"x":{"field":"s","type":"nominal","axis":{"values":["g1","g2"],"labels":false,"title":null,"tickSize":4,"domainWidth":1.5,"tickWidth":1.2}},"y":{"field":"m","type":"quantitative","axis":{"values":[0,10,20,30,40,50,60],"title":"Relative PUMA expression","titleFontSize":11,"labelFontSize":11,"tickSize":4,"labelPadding":2,"titlePadding":5,"domainWidth":1.5,"tickWidth":1.2}},"yError":{"field":"e"}}}
]},
{"layer":[
{"data":{"name":"tbl"},"transform":[{"filter":"datum.k=='pm'"}],"mark":{"type":"text","fontSize":12.5,"baseline":"middle"},
"encoding":{"x":{"field":"s","type":"nominal","scale":{"domain":["n1","n2","n3","n4","g1","s1","s2","s3","s4","g2","t1","t2","t3","t4"],"paddingInner":0,"paddingOuter":0.5},"axis":{"orient":"top","title":"DLD1","titleFontSize":13,"titleFontWeight":"bold","labels":false,"ticks":false,"domain":false,"titlePadding":29}},
"y":{"field":"r","type":"nominal","scale":{"type":"point","domain":["Imetelstat","sp1","CP-31398","u","sp2","shRNA:","pl","p21"],"padding":0,"rangeMin":139,"rangeMax":188},"axis":null},"text":{"field":"v"}}},
{"data":{"name":"tbl"},"transform":[{"filter":"datum.k=='u'"}],"mark":{"type":"rule","color":"#000","strokeWidth":1.2},
"encoding":{"x":{"field":"s","type":"nominal","axis":{"orient":"top","title":"DLD1","titleFontSize":13,"titleFontWeight":"bold","labels":false,"ticks":false,"domain":false,"titlePadding":29}},"x2":{"field":"s2"},"y":{"field":"r","type":"nominal","axis":null}}},
{"data":{"name":"tbl"},"transform":[{"filter":"datum.k=='grp'"}],"mark":{"type":"text","fontSize":11.5,"baseline":"middle"},
"encoding":{"x":{"field":"s","type":"nominal","bandPosition":1,"axis":{"orient":"top","title":"DLD1","titleFontSize":13,"titleFontWeight":"bold","labels":false,"ticks":false,"domain":false,"titlePadding":29}},"y":{"field":"r","type":"nominal","axis":null},"text":{"field":"v"}}},
{"data":{"name":"tbl"},"transform":[{"filter":"datum.k=='it'"}],"mark":{"type":"text","fontSize":11.5,"fontStyle":"italic","baseline":"middle"},
"encoding":{"x":{"field":"s","type":"nominal","bandPosition":1,"axis":{"orient":"top","title":"DLD1","titleFontSize":13,"titleFontWeight":"bold","labels":false,"ticks":false,"domain":false,"titlePadding":29}},"y":{"field":"r","type":"nominal","axis":null},"text":{"field":"v"}}}
]}
]}
]},
{"columns":1,"align":"none","spacing":2,"concat":[
{"bounds":"flush","spacing":64,"hconcat":[
{"width":199,"height":127,
"title":{"text":"F","anchor":"start","frame":"group","fontSize":29,"fontWeight":"normal","dx":-53,"dy":18.5,"offset":0},
"resolve":{"scale":{"x":"independent","y":"independent"}},
"layer":[
{"layer":[
{"data":{"name":"bars"},"transform":[{"filter":"datum.p=='F'"}],"mark":{"type":"bar","stroke":"#000","strokeWidth":1},
"encoding":{"x":{"field":"s","type":"nominal","scale":{"domain":["n1","n2","n3","n4","g1","s1","s2","s3","s4","g2","t1","t2","t3","t4"],"paddingInner":0,"paddingOuter":0.5},"axis":{"values":["g1","g2"],"labels":false,"title":null,"tickSize":4,"domainWidth":1.5,"tickWidth":1.2}},
"y":{"field":"m","type":"quantitative","scale":{"domain":[0,100],"nice":false},"axis":{"values":[0,20,40,60,80,100],"title":"Cell Viability (%)","titleFontSize":11,"labelFontSize":11,"tickSize":4,"labelPadding":2,"titlePadding":5,"domainWidth":1.5,"tickWidth":1.2}},
"fill":{"field":"t","type":"nominal","scale":{"domain":["V","I","C","IC"],"range":["#ffffff","#fff200","#00a651","#ed1c24"]},"legend":null}}},
{"data":{"name":"bars"},"transform":[{"filter":"datum.p=='F'"}],"mark":{"type":"errorbar","ticks":true,"size":6,"thickness":1,"color":"#000"},
"encoding":{"x":{"field":"s","type":"nominal","axis":{"values":["g1","g2"],"labels":false,"title":null,"tickSize":4,"domainWidth":1.5,"tickWidth":1.2}},"y":{"field":"m","type":"quantitative","axis":{"values":[0,20,40,60,80,100],"title":"Cell Viability (%)","titleFontSize":11,"labelFontSize":11,"tickSize":4,"labelPadding":2,"titlePadding":5,"domainWidth":1.5,"tickWidth":1.2}},"yError":{"field":"e"}}},
{"data":{"name":"legs"},"transform":[{"filter":"datum.p=='F'"}],"mark":{"type":"rule","color":"#8a8a8a","strokeWidth":1.3},
"encoding":{"x":{"field":"s","type":"nominal","axis":{"values":["g1","g2"],"labels":false,"title":null,"tickSize":4,"domainWidth":1.5,"tickWidth":1.2}},"y":{"field":"top","type":"quantitative","axis":{"values":[0,20,40,60,80,100],"title":"Cell Viability (%)","titleFontSize":11,"labelFontSize":11,"tickSize":4,"labelPadding":2,"titlePadding":5,"domainWidth":1.5,"tickWidth":1.2}},"y2":{"field":"bot"}}},
{"data":{"name":"hbr"},"transform":[{"filter":"datum.p=='F'"}],"mark":{"type":"rule","color":"#8a8a8a","strokeWidth":1.3},
"encoding":{"x":{"field":"s","type":"nominal","axis":{"values":["g1","g2"],"labels":false,"title":null,"tickSize":4,"domainWidth":1.5,"tickWidth":1.2}},"x2":{"field":"s2"},"y":{"field":"y","type":"quantitative","axis":{"values":[0,20,40,60,80,100],"title":"Cell Viability (%)","titleFontSize":11,"labelFontSize":11,"tickSize":4,"labelPadding":2,"titlePadding":5,"domainWidth":1.5,"tickWidth":1.2}}}},
{"data":{"name":"stars"},"transform":[{"filter":"datum.p=='F'"}],"mark":{"type":"text","fontSize":11,"color":"#333","dy":2.5},
"encoding":{"x":{"field":"s","type":"nominal","bandPosition":1,"axis":{"values":["g1","g2"],"labels":false,"title":null,"tickSize":4,"domainWidth":1.5,"tickWidth":1.2}},"y":{"field":"y","type":"quantitative","axis":{"values":[0,20,40,60,80,100],"title":"Cell Viability (%)","titleFontSize":11,"labelFontSize":11,"tickSize":4,"labelPadding":2,"titlePadding":5,"domainWidth":1.5,"tickWidth":1.2}},"text":{"field":"l"}}}
]},
{"layer":[
{"data":{"name":"tbl"},"transform":[{"filter":"datum.k=='pm'"}],"mark":{"type":"text","fontSize":12.5,"baseline":"middle"},
"encoding":{"x":{"field":"s","type":"nominal","scale":{"domain":["n1","n2","n3","n4","g1","s1","s2","s3","s4","g2","t1","t2","t3","t4"],"paddingInner":0,"paddingOuter":0.5},"axis":{"orient":"top","title":"A375.S2","titleFontSize":13,"titleFontWeight":"bold","labels":false,"ticks":false,"domain":false,"titlePadding":30}},
"y":{"field":"r","type":"nominal","scale":{"type":"point","domain":["Imetelstat","sp1","CP-31398","u","sp2","shRNA:","pl","p21"],"padding":0,"rangeMin":139,"rangeMax":188},"axis":{"orient":"left","title":null,"domain":false,"ticks":false,"labelFontSize":11,"labelPadding":3,"labelExpr":"indexof(['Imetelstat','CP-31398','shRNA:'], datum.value) >= 0 ? datum.value : ''"}},"text":{"field":"v"}}},
{"data":{"name":"tbl"},"transform":[{"filter":"datum.k=='u'"}],"mark":{"type":"rule","color":"#000","strokeWidth":1.2},
"encoding":{"x":{"field":"s","type":"nominal","axis":{"orient":"top","title":"A375.S2","titleFontSize":13,"titleFontWeight":"bold","labels":false,"ticks":false,"domain":false,"titlePadding":30}},"x2":{"field":"s2"},"y":{"field":"r","type":"nominal","axis":{"orient":"left","title":null,"domain":false,"ticks":false,"labelFontSize":11,"labelPadding":3,"labelExpr":"indexof(['Imetelstat','CP-31398','shRNA:'], datum.value) >= 0 ? datum.value : ''"}}}},
{"data":{"name":"tbl"},"transform":[{"filter":"datum.k=='grp'"}],"mark":{"type":"text","fontSize":11.5,"baseline":"middle"},
"encoding":{"x":{"field":"s","type":"nominal","bandPosition":1,"axis":{"orient":"top","title":"A375.S2","titleFontSize":13,"titleFontWeight":"bold","labels":false,"ticks":false,"domain":false,"titlePadding":30}},"y":{"field":"r","type":"nominal","axis":{"orient":"left","title":null,"domain":false,"ticks":false,"labelFontSize":11,"labelPadding":3,"labelExpr":"indexof(['Imetelstat','CP-31398','shRNA:'], datum.value) >= 0 ? datum.value : ''"}},"text":{"field":"v"}}},
{"data":{"name":"tbl"},"transform":[{"filter":"datum.k=='it'"}],"mark":{"type":"text","fontSize":11.5,"fontStyle":"italic","baseline":"middle"},
"encoding":{"x":{"field":"s","type":"nominal","bandPosition":1,"axis":{"orient":"top","title":"A375.S2","titleFontSize":13,"titleFontWeight":"bold","labels":false,"ticks":false,"domain":false,"titlePadding":30}},"y":{"field":"r","type":"nominal","axis":{"orient":"left","title":null,"domain":false,"ticks":false,"labelFontSize":11,"labelPadding":3,"labelExpr":"indexof(['Imetelstat','CP-31398','shRNA:'], datum.value) >= 0 ? datum.value : ''"}},"text":{"field":"v"}}}
]}
]},
{"width":199,"height":127,
"title":{"text":"G","anchor":"start","frame":"group","fontSize":29,"fontWeight":"normal","dx":-39,"dy":15.5,"offset":0},
"resolve":{"scale":{"x":"independent","y":"independent"}},
"layer":[
{"layer":[
{"data":{"name":"bars"},"transform":[{"filter":"datum.p=='G'"}],"mark":{"type":"bar","stroke":"#000","strokeWidth":1},
"encoding":{"x":{"field":"s","type":"nominal","scale":{"domain":["n1","n2","n3","n4","g1","s1","s2","s3","s4","g2","t1","t2","t3","t4"],"paddingInner":0,"paddingOuter":0.5},"axis":{"values":["g1","g2"],"labels":false,"title":null,"tickSize":4,"domainWidth":1.5,"tickWidth":1.2}},
"y":{"field":"m","type":"quantitative","scale":{"domain":[0,80],"nice":false},"axis":{"values":[0,10,20,30,40,50,60,70,80],"title":"% Annexin V positive cells","titleFontSize":11,"labelFontSize":11,"tickSize":4,"labelPadding":2,"titlePadding":5,"domainWidth":1.5,"tickWidth":1.2}},
"fill":{"field":"t","type":"nominal","scale":{"domain":["V","I","C","IC"],"range":["#ffffff","#fff200","#00a651","#ed1c24"]},"legend":null}}},
{"data":{"name":"bars"},"transform":[{"filter":"datum.p=='G'"}],"mark":{"type":"errorbar","ticks":true,"size":6,"thickness":1,"color":"#000"},
"encoding":{"x":{"field":"s","type":"nominal","axis":{"values":["g1","g2"],"labels":false,"title":null,"tickSize":4,"domainWidth":1.5,"tickWidth":1.2}},"y":{"field":"m","type":"quantitative","axis":{"values":[0,10,20,30,40,50,60,70,80],"title":"% Annexin V positive cells","titleFontSize":11,"labelFontSize":11,"tickSize":4,"labelPadding":2,"titlePadding":5,"domainWidth":1.5,"tickWidth":1.2}},"yError":{"field":"e"}}},
{"data":{"name":"legs"},"transform":[{"filter":"datum.p=='G'"}],"mark":{"type":"rule","color":"#8a8a8a","strokeWidth":1.3},
"encoding":{"x":{"field":"s","type":"nominal","axis":{"values":["g1","g2"],"labels":false,"title":null,"tickSize":4,"domainWidth":1.5,"tickWidth":1.2}},"y":{"field":"top","type":"quantitative","axis":{"values":[0,10,20,30,40,50,60,70,80],"title":"% Annexin V positive cells","titleFontSize":11,"labelFontSize":11,"tickSize":4,"labelPadding":2,"titlePadding":5,"domainWidth":1.5,"tickWidth":1.2}},"y2":{"field":"bot"}}},
{"data":{"name":"hbr"},"transform":[{"filter":"datum.p=='G'"}],"mark":{"type":"rule","color":"#8a8a8a","strokeWidth":1.3},
"encoding":{"x":{"field":"s","type":"nominal","axis":{"values":["g1","g2"],"labels":false,"title":null,"tickSize":4,"domainWidth":1.5,"tickWidth":1.2}},"x2":{"field":"s2"},"y":{"field":"y","type":"quantitative","axis":{"values":[0,10,20,30,40,50,60,70,80],"title":"% Annexin V positive cells","titleFontSize":11,"labelFontSize":11,"tickSize":4,"labelPadding":2,"titlePadding":5,"domainWidth":1.5,"tickWidth":1.2}}}},
{"data":{"name":"stars"},"transform":[{"filter":"datum.p=='G'"}],"mark":{"type":"text","fontSize":11,"color":"#333","dy":2.5},
"encoding":{"x":{"field":"s","type":"nominal","bandPosition":1,"axis":{"values":["g1","g2"],"labels":false,"title":null,"tickSize":4,"domainWidth":1.5,"tickWidth":1.2}},"y":{"field":"y","type":"quantitative","axis":{"values":[0,10,20,30,40,50,60,70,80],"title":"% Annexin V positive cells","titleFontSize":11,"labelFontSize":11,"tickSize":4,"labelPadding":2,"titlePadding":5,"domainWidth":1.5,"tickWidth":1.2}},"text":{"field":"l"}}}
]},
{"layer":[
{"data":{"name":"tbl"},"transform":[{"filter":"datum.k=='pm'"}],"mark":{"type":"text","fontSize":12.5,"baseline":"middle"},
"encoding":{"x":{"field":"s","type":"nominal","scale":{"domain":["n1","n2","n3","n4","g1","s1","s2","s3","s4","g2","t1","t2","t3","t4"],"paddingInner":0,"paddingOuter":0.5},"axis":{"orient":"top","title":"A375.S2","titleFontSize":13,"titleFontWeight":"bold","labels":false,"ticks":false,"domain":false,"titlePadding":30}},
"y":{"field":"r","type":"nominal","scale":{"type":"point","domain":["Imetelstat","sp1","CP-31398","u","sp2","shRNA:","pl","p21"],"padding":0,"rangeMin":139,"rangeMax":188},"axis":null},"text":{"field":"v"}}},
{"data":{"name":"tbl"},"transform":[{"filter":"datum.k=='u'"}],"mark":{"type":"rule","color":"#000","strokeWidth":1.2},
"encoding":{"x":{"field":"s","type":"nominal","axis":{"orient":"top","title":"A375.S2","titleFontSize":13,"titleFontWeight":"bold","labels":false,"ticks":false,"domain":false,"titlePadding":30}},"x2":{"field":"s2"},"y":{"field":"r","type":"nominal","axis":null}}},
{"data":{"name":"tbl"},"transform":[{"filter":"datum.k=='grp'"}],"mark":{"type":"text","fontSize":11.5,"baseline":"middle"},
"encoding":{"x":{"field":"s","type":"nominal","bandPosition":1,"axis":{"orient":"top","title":"A375.S2","titleFontSize":13,"titleFontWeight":"bold","labels":false,"ticks":false,"domain":false,"titlePadding":30}},"y":{"field":"r","type":"nominal","axis":null},"text":{"field":"v"}}},
{"data":{"name":"tbl"},"transform":[{"filter":"datum.k=='it'"}],"mark":{"type":"text","fontSize":11.5,"fontStyle":"italic","baseline":"middle"},
"encoding":{"x":{"field":"s","type":"nominal","bandPosition":1,"axis":{"orient":"top","title":"A375.S2","titleFontSize":13,"titleFontWeight":"bold","labels":false,"ticks":false,"domain":false,"titlePadding":30}},"y":{"field":"r","type":"nominal","axis":null},"text":{"field":"v"}}}
]}
]},
{"width":199,"height":127,
"title":{"text":"H","anchor":"start","frame":"group","fontSize":29,"fontWeight":"normal","dx":-38,"dy":21.5,"offset":0},
"resolve":{"scale":{"x":"independent","y":"independent"}},
"layer":[
{"layer":[
{"data":{"name":"bars"},"transform":[{"filter":"datum.p=='H'"}],"mark":{"type":"bar","stroke":"#000","strokeWidth":1},
"encoding":{"x":{"field":"s","type":"nominal","scale":{"domain":["n1","n2","n3","n4","g1","s1","s2","s3","s4","g2","t1","t2","t3","t4"],"paddingInner":0,"paddingOuter":0.5},"axis":{"values":["g1","g2"],"labels":false,"title":null,"tickSize":4,"domainWidth":1.5,"tickWidth":1.2}},
"y":{"field":"m","type":"quantitative","scale":{"domain":[0,120],"nice":false},"axis":{"values":[0,20,40,60,80,100,120],"title":"Relative PUMA  expression","titleFontSize":11,"labelFontSize":11,"tickSize":4,"labelPadding":2,"titlePadding":5,"domainWidth":1.5,"tickWidth":1.2}},
"fill":{"field":"t","type":"nominal","scale":{"domain":["V","I","C","IC"],"range":["#ffffff","#fff200","#00a651","#ed1c24"]},"legend":null}}},
{"data":{"name":"bars"},"transform":[{"filter":"datum.p=='H'"}],"mark":{"type":"errorbar","ticks":true,"size":6,"thickness":1,"color":"#000"},
"encoding":{"x":{"field":"s","type":"nominal","axis":{"values":["g1","g2"],"labels":false,"title":null,"tickSize":4,"domainWidth":1.5,"tickWidth":1.2}},"y":{"field":"m","type":"quantitative","axis":{"values":[0,20,40,60,80,100,120],"title":"Relative PUMA  expression","titleFontSize":11,"labelFontSize":11,"tickSize":4,"labelPadding":2,"titlePadding":5,"domainWidth":1.5,"tickWidth":1.2}},"yError":{"field":"e"}}}
]},
{"layer":[
{"data":{"name":"tbl"},"transform":[{"filter":"datum.k=='pm'"}],"mark":{"type":"text","fontSize":12.5,"baseline":"middle"},
"encoding":{"x":{"field":"s","type":"nominal","scale":{"domain":["n1","n2","n3","n4","g1","s1","s2","s3","s4","g2","t1","t2","t3","t4"],"paddingInner":0,"paddingOuter":0.5},"axis":{"orient":"top","title":"A375.S2","titleFontSize":13,"titleFontWeight":"bold","labels":false,"ticks":false,"domain":false,"titlePadding":30}},
"y":{"field":"r","type":"nominal","scale":{"type":"point","domain":["Imetelstat","sp1","CP-31398","u","sp2","shRNA:","pl","p21"],"padding":0,"rangeMin":139,"rangeMax":188},"axis":null},"text":{"field":"v"}}},
{"data":{"name":"tbl"},"transform":[{"filter":"datum.k=='u'"}],"mark":{"type":"rule","color":"#000","strokeWidth":1.2},
"encoding":{"x":{"field":"s","type":"nominal","axis":{"orient":"top","title":"A375.S2","titleFontSize":13,"titleFontWeight":"bold","labels":false,"ticks":false,"domain":false,"titlePadding":30}},"x2":{"field":"s2"},"y":{"field":"r","type":"nominal","axis":null}}},
{"data":{"name":"tbl"},"transform":[{"filter":"datum.k=='grp'"}],"mark":{"type":"text","fontSize":11.5,"baseline":"middle"},
"encoding":{"x":{"field":"s","type":"nominal","bandPosition":1,"axis":{"orient":"top","title":"A375.S2","titleFontSize":13,"titleFontWeight":"bold","labels":false,"ticks":false,"domain":false,"titlePadding":30}},"y":{"field":"r","type":"nominal","axis":null},"text":{"field":"v"}}},
{"data":{"name":"tbl"},"transform":[{"filter":"datum.k=='it'"}],"mark":{"type":"text","fontSize":11.5,"fontStyle":"italic","baseline":"middle"},
"encoding":{"x":{"field":"s","type":"nominal","bandPosition":1,"axis":{"orient":"top","title":"A375.S2","titleFontSize":13,"titleFontWeight":"bold","labels":false,"ticks":false,"domain":false,"titlePadding":30}},"y":{"field":"r","type":"nominal","axis":null},"text":{"field":"v"}}}
]}
]}
]},
{"bounds":"flush","spacing":90,"hconcat":[
{"width":260,"height":218,"title":{"text":"I","anchor":"start","frame":"group","fontSize":30,"fontWeight":"normal","dx":-51,"offset":-6},
"layer":[
{"data":{"name":"tum"},"transform":[{"filter":"datum.pn=='I'"}],"mark":{"type":"line","strokeWidth":3.5},
"encoding":{"x":{"field":"d","type":"quantitative","scale":{"domain":[3.53,28],"nice":false,"zero":false,"rangeMin":6,"rangeMax":260},"axis":{"values":[7,14,21,28],"title":"Days","titleFontSize":11,"labelFontSize":12,"tickSize":5,"labelPadding":1,"titlePadding":-2,"domainWidth":1.5,"tickWidth":1.2}},
"y":{"field":"v","type":"quantitative","scale":{"domain":[0,800],"nice":false},"axis":{"values":[0,100,200,300,400,500,600,700,800],"title":"Tumor volume (mm³)","titleFontSize":15,"labelFontSize":12,"tickSize":5,"labelPadding":3,"titlePadding":6,"domainWidth":1.5,"tickWidth":1.2,"offset":-6}},
"color":{"field":"g","type":"nominal","scale":{"domain":["NS-V","NS-C","NS-I","NS-CI","p-V","p-C","p-I","p-CI"],"range":["#c49a6c","#27aae1","#92278f","#f7941d","#ed1c24","#00a651","#2e3192","#fff200"]},"legend":null}}},
{"data":{"name":"tum"},"transform":[{"filter":"datum.pn=='I'"}],"mark":{"type":"errorbar","ticks":true,"size":7,"thickness":1,"color":"#222"},
"encoding":{"x":{"field":"d","type":"quantitative","axis":{"values":[7,14,21,28],"title":"Days","titleFontSize":11,"labelFontSize":12,"tickSize":5,"labelPadding":1,"titlePadding":-2,"domainWidth":1.5,"tickWidth":1.2}},"y":{"field":"v","type":"quantitative","axis":{"values":[0,100,200,300,400,500,600,700,800],"title":"Tumor volume (mm³)","titleFontSize":15,"labelFontSize":12,"tickSize":5,"labelPadding":3,"titlePadding":6,"domainWidth":1.5,"tickWidth":1.2,"offset":-6}},"yError":{"field":"e"}}},
{"data":{"name":"tum"},"transform":[{"filter":"datum.pn=='I'"}],"mark":{"type":"point","shape":"square","filled":true,"size":90,"opacity":1},
"encoding":{"x":{"field":"d","type":"quantitative","axis":{"values":[7,14,21,28],"title":"Days","titleFontSize":11,"labelFontSize":12,"tickSize":5,"labelPadding":1,"titlePadding":-2,"domainWidth":1.5,"tickWidth":1.2}},"y":{"field":"v","type":"quantitative","axis":{"values":[0,100,200,300,400,500,600,700,800],"title":"Tumor volume (mm³)","titleFontSize":15,"labelFontSize":12,"tickSize":5,"labelPadding":3,"titlePadding":6,"domainWidth":1.5,"tickWidth":1.2,"offset":-6}},"color":{"field":"g","type":"nominal","legend":null}}},
{"data":{"name":"sig"},"transform":[{"filter":"datum.pn=='I' && datum.k=='v'"}],"mark":{"type":"rule","color":"#666","strokeWidth":1},
"encoding":{"x":{"field":"d","type":"quantitative","axis":{"values":[7,14,21,28],"title":"Days","titleFontSize":11,"labelFontSize":12,"tickSize":5,"labelPadding":1,"titlePadding":-2,"domainWidth":1.5,"tickWidth":1.2}},"y":{"field":"v","type":"quantitative","axis":{"values":[0,100,200,300,400,500,600,700,800],"title":"Tumor volume (mm³)","titleFontSize":15,"labelFontSize":12,"tickSize":5,"labelPadding":3,"titlePadding":6,"domainWidth":1.5,"tickWidth":1.2,"offset":-6}},"y2":{"field":"v2"}}},
{"data":{"name":"sig"},"transform":[{"filter":"datum.pn=='I' && datum.k=='h'"}],"mark":{"type":"rule","color":"#666","strokeWidth":1},
"encoding":{"x":{"field":"d","type":"quantitative","axis":{"values":[7,14,21,28],"title":"Days","titleFontSize":11,"labelFontSize":12,"tickSize":5,"labelPadding":1,"titlePadding":-2,"domainWidth":1.5,"tickWidth":1.2}},"x2":{"field":"d2"},"y":{"field":"v","type":"quantitative","axis":{"values":[0,100,200,300,400,500,600,700,800],"title":"Tumor volume (mm³)","titleFontSize":15,"labelFontSize":12,"tickSize":5,"labelPadding":3,"titlePadding":6,"domainWidth":1.5,"tickWidth":1.2,"offset":-6}}}},
{"data":{"name":"sig"},"transform":[{"filter":"datum.pn=='I' && datum.k=='t'"}],"mark":{"type":"text","angle":90,"fontSize":10,"color":"#555","baseline":"middle"},
"encoding":{"x":{"field":"d","type":"quantitative","axis":{"values":[7,14,21,28],"title":"Days","titleFontSize":11,"labelFontSize":12,"tickSize":5,"labelPadding":1,"titlePadding":-2,"domainWidth":1.5,"tickWidth":1.2}},"y":{"field":"v","type":"quantitative","axis":{"values":[0,100,200,300,400,500,600,700,800],"title":"Tumor volume (mm³)","titleFontSize":15,"labelFontSize":12,"tickSize":5,"labelPadding":3,"titlePadding":6,"domainWidth":1.5,"tickWidth":1.2,"offset":-6}},"text":{"field":"t"}}}
]},
{"width":255,"height":218,"title":{"text":"J","anchor":"start","frame":"group","fontSize":30,"fontWeight":"normal","dx":-56,"offset":-6},
"layer":[
{"data":{"name":"tum"},"transform":[{"filter":"datum.pn=='J'"}],"mark":{"type":"line","strokeWidth":3.5},
"encoding":{"x":{"field":"d","type":"quantitative","scale":{"domain":[3.55,28],"nice":false,"zero":false},"axis":{"values":[7,14,21,28],"title":"Days","titleFontSize":11,"labelFontSize":12,"tickSize":5,"labelPadding":1,"titlePadding":-2,"domainWidth":1.5,"tickWidth":1.2}},
"y":{"field":"v","type":"quantitative","scale":{"domain":[0,1000],"nice":false},"axis":{"values":[0,200,400,600,800,1000],"format":"d","title":"Tumor volume (mm³)","titleFontSize":15,"labelFontSize":12,"tickSize":5,"labelPadding":3,"titlePadding":-4,"domainWidth":1.5,"tickWidth":1.2}},
"color":{"field":"g","type":"nominal","scale":{"domain":["NS-V","NS-C","NS-I","NS-CI","p-V","p-C","p-I","p-CI"],"range":["#c49a6c","#27aae1","#92278f","#f7941d","#ed1c24","#00a651","#2e3192","#fff200"]},"legend":null}}},
{"data":{"name":"tum"},"transform":[{"filter":"datum.pn=='J'"}],"mark":{"type":"errorbar","ticks":true,"size":7,"thickness":1,"color":"#222"},
"encoding":{"x":{"field":"d","type":"quantitative","axis":{"values":[7,14,21,28],"title":"Days","titleFontSize":11,"labelFontSize":12,"tickSize":5,"labelPadding":1,"titlePadding":-2,"domainWidth":1.5,"tickWidth":1.2}},"y":{"field":"v","type":"quantitative","axis":{"values":[0,200,400,600,800,1000],"format":"d","title":"Tumor volume (mm³)","titleFontSize":15,"labelFontSize":12,"tickSize":5,"labelPadding":3,"titlePadding":-4,"domainWidth":1.5,"tickWidth":1.2}},"yError":{"field":"e"}}},
{"data":{"name":"tum"},"transform":[{"filter":"datum.pn=='J'"}],"mark":{"type":"point","shape":"square","filled":true,"size":90,"opacity":1},
"encoding":{"x":{"field":"d","type":"quantitative","axis":{"values":[7,14,21,28],"title":"Days","titleFontSize":11,"labelFontSize":12,"tickSize":5,"labelPadding":1,"titlePadding":-2,"domainWidth":1.5,"tickWidth":1.2}},"y":{"field":"v","type":"quantitative","axis":{"values":[0,200,400,600,800,1000],"format":"d","title":"Tumor volume (mm³)","titleFontSize":15,"labelFontSize":12,"tickSize":5,"labelPadding":3,"titlePadding":-4,"domainWidth":1.5,"tickWidth":1.2}},"color":{"field":"g","type":"nominal","legend":null}}},
{"data":{"name":"sig"},"transform":[{"filter":"datum.pn=='J' && datum.k=='v'"}],"mark":{"type":"rule","color":"#666","strokeWidth":1},
"encoding":{"x":{"field":"d","type":"quantitative","axis":{"values":[7,14,21,28],"title":"Days","titleFontSize":11,"labelFontSize":12,"tickSize":5,"labelPadding":1,"titlePadding":-2,"domainWidth":1.5,"tickWidth":1.2}},"y":{"field":"v","type":"quantitative","axis":{"values":[0,200,400,600,800,1000],"format":"d","title":"Tumor volume (mm³)","titleFontSize":15,"labelFontSize":12,"tickSize":5,"labelPadding":3,"titlePadding":-4,"domainWidth":1.5,"tickWidth":1.2}},"y2":{"field":"v2"}}},
{"data":{"name":"sig"},"transform":[{"filter":"datum.pn=='J' && datum.k=='h'"}],"mark":{"type":"rule","color":"#666","strokeWidth":1},
"encoding":{"x":{"field":"d","type":"quantitative","axis":{"values":[7,14,21,28],"title":"Days","titleFontSize":11,"labelFontSize":12,"tickSize":5,"labelPadding":1,"titlePadding":-2,"domainWidth":1.5,"tickWidth":1.2}},"x2":{"field":"d2"},"y":{"field":"v","type":"quantitative","axis":{"values":[0,200,400,600,800,1000],"format":"d","title":"Tumor volume (mm³)","titleFontSize":15,"labelFontSize":12,"tickSize":5,"labelPadding":3,"titlePadding":-4,"domainWidth":1.5,"tickWidth":1.2}}}},
{"data":{"name":"sig"},"transform":[{"filter":"datum.pn=='J' && datum.k=='t'"}],"mark":{"type":"text","angle":90,"fontSize":10,"color":"#555","baseline":"middle"},
"encoding":{"x":{"field":"d","type":"quantitative","axis":{"values":[7,14,21,28],"title":"Days","titleFontSize":11,"labelFontSize":12,"tickSize":5,"labelPadding":1,"titlePadding":-2,"domainWidth":1.5,"tickWidth":1.2}},"y":{"field":"v","type":"quantitative","axis":{"values":[0,200,400,600,800,1000],"format":"d","title":"Tumor volume (mm³)","titleFontSize":15,"labelFontSize":12,"tickSize":5,"labelPadding":3,"titlePadding":-4,"domainWidth":1.5,"tickWidth":1.2}},"text":{"field":"t"}}}
]},
{"width":64,"height":198.8,
"layer":[
{"data":{"name":"leg"},"transform":[{"filter":"datum.k=='sym'"}],"mark":{"type":"point","filled":true,"opacity":1,"strokeWidth":0,"size":900,"shape":"M-1,-0.11H1V0.11H-1Z M-0.32,-0.32H0.32V0.32H-0.32Z"},
"encoding":{"x":{"field":"c","type":"nominal","scale":{"type":"point","padding":0,"rangeMin":-35,"rangeMax":59.5,"domain":["sym","x1","x2","x3","x4","lab","x6","lab2","x8","x9","x10","x11","x12","x13","x14","x15","x16","x17","x18","x19","x20","stub","x22","br","x24","x25","ttl","x27"]},"axis":null},
"y":{"field":"r","type":"nominal","scale":{"type":"point","padding":2.58,"domain":["nsTop","nsV","q2","nsC","nsT","nsI","q6","nsCI","q8","nsCI2","q10","pTop","pV","q13","pC","q15","pI","q17","pCI","q19","pCI2","pBot"]},"axis":null},
"color":{"field":"g","type":"nominal","scale":{"domain":["NS-V","NS-C","NS-I","NS-CI","p-V","p-C","p-I","p-CI"],"range":["#c49a6c","#27aae1","#92278f","#f7941d","#ed1c24","#00a651","#2e3192","#fff200"]},"legend":null}}},
{"data":{"name":"leg"},"transform":[{"filter":"datum.k=='lab'"}],"mark":{"type":"text","align":"left","baseline":"middle","fontSize":11.5},
"encoding":{"x":{"field":"c","type":"nominal","axis":null},"y":{"field":"r","type":"nominal","axis":null},"text":{"field":"t"}}},
{"data":{"name":"leg"},"transform":[{"filter":"datum.k=='bv'"}],"mark":{"type":"rule","color":"#444","strokeWidth":1},
"encoding":{"x":{"field":"c","type":"nominal","axis":null},"y":{"field":"r","type":"nominal","axis":null},"y2":{"field":"r2"}}},
{"data":{"name":"leg"},"transform":[{"filter":"datum.k=='bh'"}],"mark":{"type":"rule","color":"#444","strokeWidth":1},
"encoding":{"x":{"field":"c","type":"nominal","axis":null},"x2":{"field":"c2"},"y":{"field":"r","type":"nominal","axis":null}}},
{"data":{"name":"leg"},"transform":[{"filter":"datum.k=='ttl'"}],"mark":{"type":"text","angle":270,"align":"center","baseline":"middle","fontSize":12.5},
"encoding":{"x":{"field":"c","type":"nominal","axis":null},"y":{"field":"r","type":"nominal","axis":null},"text":{"field":"t"}}}
]}
]}
]}
]}
]
}
